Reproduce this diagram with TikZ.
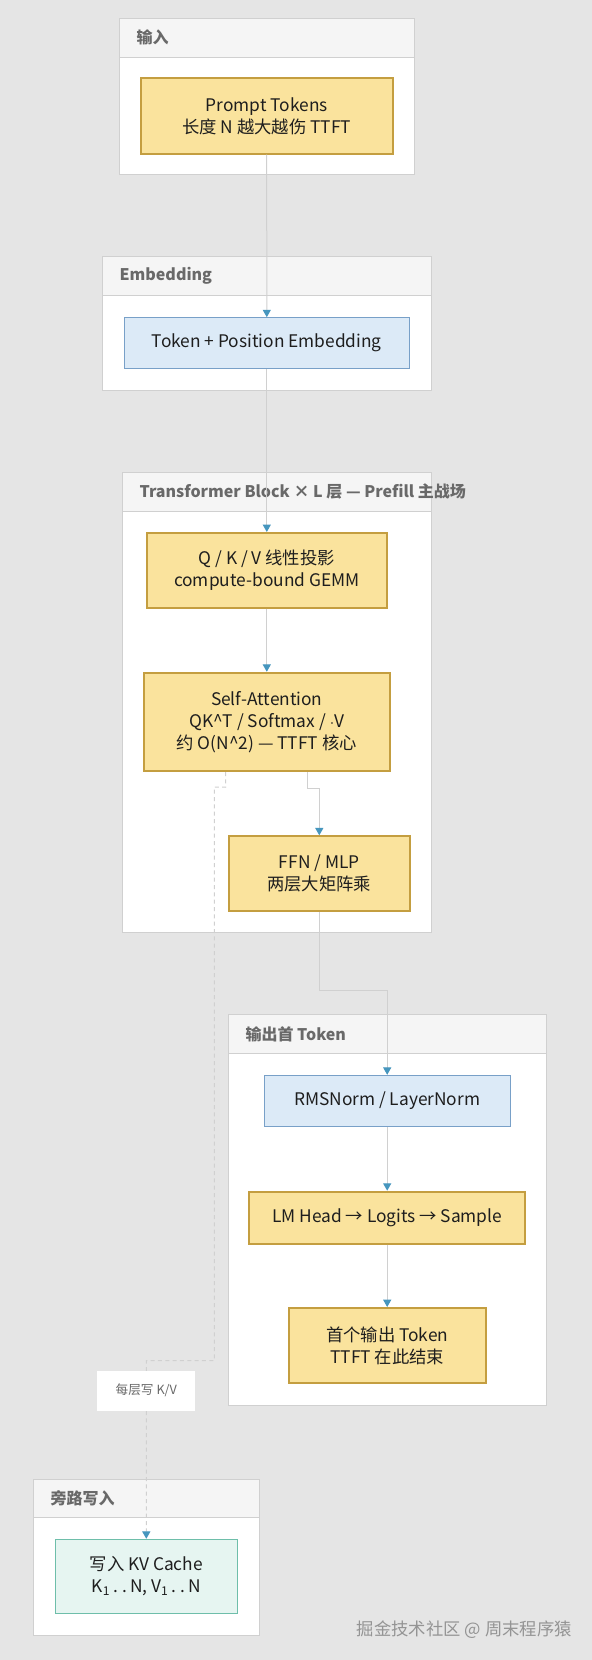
\documentclass[tikz,border=0pt]{standalone}
\usepackage{fontspec}
\setmainfont{Noto Sans CJK SC}
\usepackage{tikz}
\usetikzlibrary{arrows.meta}
\usetikzlibrary{positioning}
\usetikzlibrary{calc}
\definecolor{mybg}{RGB}{229,229,229}
\definecolor{myyellow}{RGB}{250,227,157}
\definecolor{myyellowline}{RGB}{196,158,64}
\definecolor{myblue}{RGB}{220,234,247}
\definecolor{myblueline}{RGB}{120,160,200}
\definecolor{mygreen}{RGB}{230,245,241}
\definecolor{mygreenline}{RGB}{110,190,170}
\definecolor{mygrey}{RGB}{208,208,208}
\definecolor{myhead}{RGB}{245,245,245}
\definecolor{mytip}{RGB}{70,150,190}
\definecolor{mytext}{RGB}{30,30,30}
\definecolor{mytitle}{RGB}{105,105,105}
\newcommand\mydots{\,.\hspace{0.25em}.\,}
\newcommand\mynode[4][]{%
  \node[#1,minimum width=#2*0.75pt] (#3) {#4};
}
\newcommand\mygroup[7]{%
  \draw[mygroupbox] (#2,#3) rectangle (#4,#5);
  \draw[mygrouphead] (#2,#3) rectangle (#4,#6);
  \node[mygrouptitle] (#1) at ({#2+17},{(#3+#6)/2}) {#7};
}

\begin{document}
\begin{tikzpicture}[x=0.75pt, y=-0.75pt,
>={Triangle[width=6pt,length=5.5pt,color=mytip]},
mynode/.style={
  draw,
  text=mytext,
  align=center,
  inner sep=2pt,
  font=\fontsize{13}{16.5}\selectfont},
yellownode/.style={mynode, fill=myyellow, draw=myyellowline, line width=1.5pt},
bluenode/.style={mynode, fill=myblue, draw=myblueline, line width=0.75pt},
greennode/.style={mynode, fill=mygreen, draw=mygreenline, line width=0.75pt},
mygroupbox/.style={draw=mygrey, fill=white, line width=0.75pt},
mygrouphead/.style={draw=mygrey, fill=myhead, line width=0.75pt},
mygrouptitle/.style={anchor=west, inner sep=0pt, text=mytitle,
  font=\bfseries\fontsize{12}{14}\selectfont},
myline/.style={->, draw=mygrey, line width=0.75pt},
mydash/.style={myline, dash pattern=on 3pt off 2.5pt},
mytag/.style={fill=white, text=mytitle, font=\fontsize{9.5}{12}\selectfont,
  minimum width=73.5pt, minimum height=30pt},
mywatermark/.style={anchor=east, inner sep=0pt, text=black!42,
  font=\fontsize{13}{15}\selectfont}
]
\fill[mybg] (0,0) rectangle (592,1660);

% groups
\mygroup{g-in}{119.3}{18.3}{414}{174}{57.3}{输入}
\mygroup{g-emb}{102.3}{256.7}{431.7}{390.7}{295.7}{Embedding}
\mygroup{g-tf}{122.3}{472.7}{431}{932.3}{511}{Transformer Block × L 层 — Prefill 主战场}
\mygroup{g-out}{228.3}{1014.7}{546.7}{1405}{1053.3}{输出首 Token}
\mygroup{g-side}{33.3}{1479}{259.3}{1635}{1517.3}{旁路写入}

% nodes
\mynode[yellownode, at={(266.7,116)}, minimum height=56.5pt]{252}{prompt}{Prompt Tokens\\长度 N 越大越伤 TTFT}
\mynode[bluenode, at={(266.8,343)}, minimum height=38pt]{285}{embed}{Token + Position Embedding}
\mynode[yellownode, at={(266.8,570.3)}, minimum height=56pt]{240.3}{qkv}{Q / K / V 线性投影\\compute-bound GEMM}
\mynode[yellownode, at={(266.8,721.9)}, minimum height=73.7pt]{246.3}{attn}{Self-Attention\\QK\textasciicircum T / Softmax / $\cdot$V\\约 O(N\textasciicircum 2) — TTFT 核心}
\mynode[yellownode, at={(319.3,873.8)}, minimum height=56.25pt]{181.3}{ffn}{FFN / MLP\\两层大矩阵乘}
\mynode[bluenode, at={(387.2,1100.8)}, minimum height=38.25pt]{245.7}{norm}{RMSNorm / LayerNorm}
\mynode[yellownode, at={(387.2,1217.7)}, minimum height=39pt]{275.7}{lmhead}{LM Head → Logits → Sample}
\mynode[yellownode, at={(387.2,1345.7)}, minimum height=56.5pt]{197}{first}{首个输出 Token\\TTFT 在此结束}
\mynode[greennode, at={(146.3,1576.3)}, minimum height=55.5pt]{182}{kv}{写入 KV Cache\\K\textsubscript{1}\mydots N, V\textsubscript{1}\mydots N}

% connectors
\coordinate (ffnbend) at (319.3,990);
\coordinate (kvbend1) at (214.3,787);
\coordinate (kvbend2) at (214.3,1360.7);
\coordinate (kvbend3) at (146.3,1360.7);
\draw[myline] (prompt.south) -- (embed.north);
\draw[myline] (embed.south) -- (qkv.north);
\draw[myline] (qkv.south) -- (attn.north);
\draw[myline] ($(attn.south)+(40.5,0)$) -- ++(0,16.5) -| (ffn.north);
\draw[myline] (ffn.south) -- (ffnbend) -| (norm.north);
\draw[myline] (norm.south) -- (lmhead.north);
\draw[myline] (lmhead.south) -- (first.north);
\draw[mydash] ($(attn.south)+(-41.1,0)$) -- ($(attn.south)+(-41.1,15.2)$) -- (kvbend1) -- (kvbend2) -- (kvbend3)
  -- node[mytag, pos=0.168] (kvtag) {每层写 K/V} (kv.north);

\node[mywatermark] (wm) at (572,1630) {掘金技术社区 @ 周末程序猿};
\end{tikzpicture}
\end{document}
